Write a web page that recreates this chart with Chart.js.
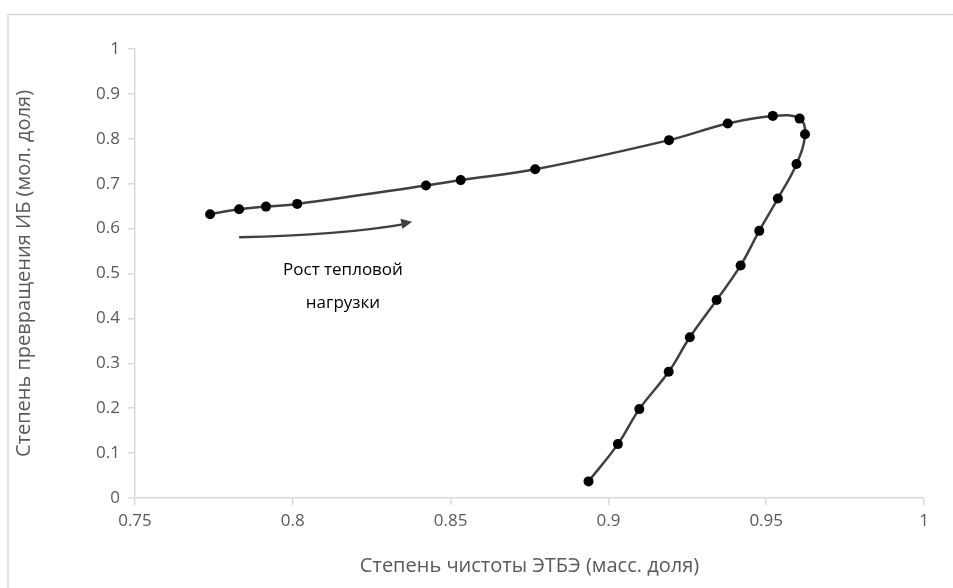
<!DOCTYPE html>
<html>
<head>
<meta charset="utf-8">
<script src="https://cdn.jsdelivr.net/npm/chart.js@4/dist/chart.umd.min.js"></script>
<style>
  html, body { margin: 0; padding: 0; background: #fff; }
  #wrap { width: 953px; height: 588px; position: relative; }
</style>
</head>
<body>
<div id="wrap"><canvas id="chart" width="953" height="588"></canvas></div>
<script>
// purity of ETBE (x) and conversion of IB (y), in order along the curve
const purity = [0.7738, 0.7830, 0.7915, 0.8014, 0.8422, 0.8532, 0.8768, 0.9192, 0.9378, 0.9521,
  0.9606, 0.9623, 0.9596, 0.9537, 0.9478, 0.9419, 0.9343, 0.9258, 0.9191, 0.9098, 0.9030, 0.8937];
const conversion = [0.632, 0.643, 0.649, 0.655, 0.696, 0.708, 0.732, 0.797, 0.834, 0.851,
  0.845, 0.810, 0.744, 0.667, 0.595, 0.518, 0.441, 0.358, 0.281, 0.198, 0.120, 0.037];

const xTicks = [0.75, 0.8, 0.85, 0.9, 0.95, 1];
const yTicks = [0, 0.1, 0.2, 0.3, 0.4, 0.5, 0.6, 0.7, 0.8, 0.9, 1];

const xTitle = 'Степень чистоты ЭТБЭ (масс. доля)';
const yTitle = 'Степень превращения ИБ (мол. доля)';
const noteLines = ['Рост тепловой', 'нагрузки'];
// arrow annotation in data units: start, control, end
const arrowPath = [[0.783, 0.581], [0.815, 0.585], [0.8378, 0.615]];
const notePos = [0.8159, 0.508, 0.434];

const points = purity.map((x, i) => ({ x: x, y: conversion[i] }));

const frame = {
  id: 'frame',
  beforeDraw(chart) {
    const c = chart.ctx;
    c.save();
    c.fillStyle = '#fff';
    c.fillRect(0, 0, chart.width, chart.height);
    c.strokeStyle = '#d9d9d9';
    c.lineWidth = 1.5;
    c.strokeRect(8, 14.5, chart.width, chart.height);
    c.restore();
  },
  afterDatasetsDraw(chart) {
    const c = chart.ctx;
    const sx = chart.scales.x, sy = chart.scales.y;
    const p = arrowPath.map(a => [sx.getPixelForValue(a[0]), sy.getPixelForValue(a[1])]);
    c.save();
    c.strokeStyle = '#404040';
    c.fillStyle = '#404040';
    c.lineWidth = 2.5;
    c.beginPath();
    c.moveTo(p[0][0], p[0][1]);
    c.quadraticCurveTo(p[1][0], p[1][1], p[2][0] - 6, p[2][1] + 2);
    c.stroke();
    // arrow head
    const ang = Math.atan2(p[2][1] - p[1][1], p[2][0] - p[1][0]);
    c.beginPath();
    c.moveTo(p[2][0], p[2][1]);
    c.lineTo(p[2][0] - 12 * Math.cos(ang - 0.45), p[2][1] - 12 * Math.sin(ang - 0.45));
    c.lineTo(p[2][0] - 12 * Math.cos(ang + 0.45), p[2][1] - 12 * Math.sin(ang + 0.45));
    c.closePath();
    c.fill();

    c.fillStyle = '#000';
    c.font = '17px "Open Sans", Lato, sans-serif';
    c.textAlign = 'center';
    c.textBaseline = 'middle';
    const tx = sx.getPixelForValue(notePos[0]);
    c.fillText(noteLines[0], tx, sy.getPixelForValue(notePos[1]));
    c.fillText(noteLines[1], tx, sy.getPixelForValue(notePos[2]));
    c.restore();
  }
};

const tickFont = { family: '"Open Sans", Lato, sans-serif', size: 17 };
const titleFont = { family: '"Open Sans", Lato, sans-serif', size: 20 };

new Chart(document.getElementById('chart'), {
  type: 'scatter',
  data: {
    datasets: [{
      data: points,
      showLine: true,
      tension: 0.4,
      borderColor: '#404040',
      borderWidth: 2.5,
      pointBackgroundColor: '#000',
      pointBorderColor: '#000',
      pointRadius: 5,
      pointBorderWidth: 0
    }]
  },
  options: {
    responsive: false,
    animation: false,
    layout: { padding: { top: 49, right: 29, left: 0, bottom: 0 } },
    plugins: { legend: { display: false }, tooltip: { enabled: false } },
    scales: {
      x: {
        type: 'linear',
        min: 0.75,
        max: 1,
        afterBuildTicks(scale) { scale.ticks = xTicks.map(v => ({ value: v })); },
        afterFit(scale) { scale.height = 90; },
        ticks: {
          color: '#595959',
          font: tickFont,
          padding: 6,
          maxRotation: 0,
          callback: v => String(v)
        },
        grid: { display: true, drawOnChartArea: false, drawTicks: true, tickLength: 7, color: '#d9d9d9', lineWidth: 1.5 },
        border: { color: '#d9d9d9', width: 1.5 },
        title: { display: true, text: xTitle, color: '#595959', font: titleFont, padding: { top: 4, bottom: 10 } }
      },
      y: {
        type: 'linear',
        min: 0,
        max: 1,
        afterBuildTicks(scale) { scale.ticks = yTicks.map(v => ({ value: v })); },
        afterFit(scale) { scale.width = 135; },
        ticks: {
          color: '#595959',
          font: tickFont,
          padding: 8,
          callback: v => String(v)
        },
        grid: { display: true, drawOnChartArea: false, drawTicks: true, tickLength: 7, color: '#d9d9d9', lineWidth: 1.5 },
        border: { color: '#d9d9d9', width: 1.5 },
        title: { display: true, text: yTitle, color: '#595959', font: titleFont, padding: { top: 12, bottom: 4 } }
      }
    }
  },
  plugins: [frame]
});
</script>
</body>
</html>
